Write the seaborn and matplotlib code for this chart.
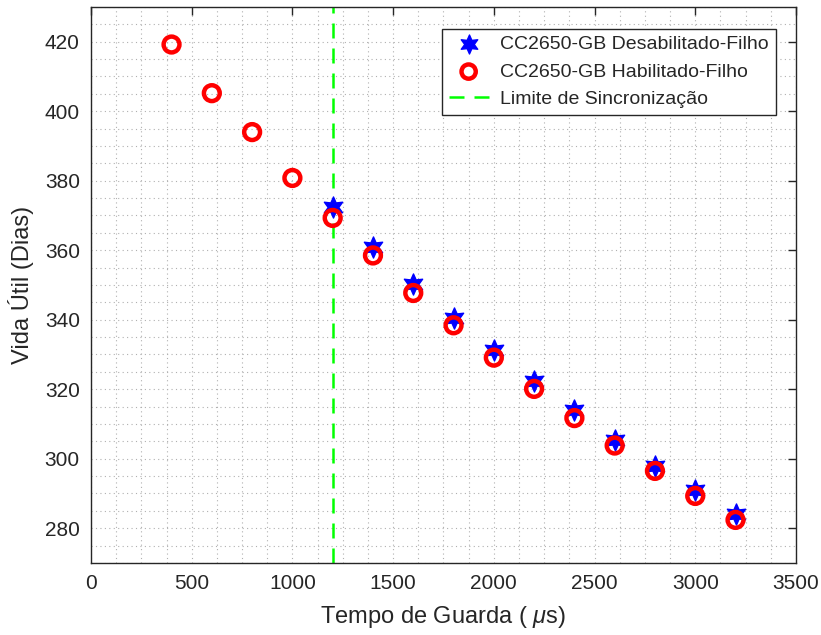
import matplotlib
matplotlib.use("Agg")
import matplotlib.pyplot as plt
import seaborn as sns
import numpy as np
import pandas as pd
from matplotlib.ticker import MultipleLocator

# Data
x_hab = [400, 600, 800, 1000, 1200, 1400, 1600, 1800, 2000, 2200, 2400, 2600, 2800, 3000, 3200]
y_hab = [419.2, 405.2, 394.0, 380.8, 369.3, 358.5, 347.7, 338.4, 329.1, 320.1, 311.7, 303.8, 296.5, 289.3, 282.4]
x_des = [1200, 1400, 1600, 1800, 2000, 2200, 2400, 2600, 2800, 3000, 3200]
y_des = [372.3, 361.0, 350.2, 340.6, 331.2, 322.3, 313.9, 305.5, 298.0, 291.0, 284.0]
sync_limit = 1200
label_des = "CC2650-GB Desabilitado-Filho"
label_hab = "CC2650-GB Habilitado-Filho"
label_sync = "Limite de Sincronização"
xlabel = "Tempo de Guarda ( $\\mu$s)"
ylabel = "Vida Útil (Dias)"

sns.set_style("white")
plt.rcParams['font.family'] = ['Liberation Sans', 'DejaVu Sans']
plt.rcParams['mathtext.fontset'] = 'custom'
plt.rcParams['mathtext.it'] = 'Liberation Sans:italic'

fig = plt.figure(figsize=(8.21, 6.35), dpi=100)
ax = fig.add_axes([0.1108, 0.1134, 0.8587, 0.8756])

df_des = pd.DataFrame({"x": x_des, "y": y_des})
df_hab = pd.DataFrame({"x": x_hab, "y": y_hab})

star6 = (6, 1, 0)
sns.scatterplot(data=df_des, x="x", y="y", ax=ax, marker=star6, s=230,
                color="#0000FF", edgecolor="#0000FF", linewidth=1, label=label_des, zorder=3)
sns.scatterplot(data=df_hab, x="x", y="y", ax=ax, marker="o", s=130,
                facecolor="none", edgecolor="#FF0000", linewidth=3.2, label=label_hab, zorder=4)
ax.axvline(sync_limit, color="#00FF00", linestyle=(0, (6, 4)), linewidth=1.8, label=label_sync, zorder=2)

ax.set_xlim(0, 3500)
ax.set_ylim(270, 430)
ax.xaxis.set_major_locator(MultipleLocator(500))
ax.set_yticks(np.arange(280, 421, 20))
ax.xaxis.set_minor_locator(MultipleLocator(125))
ax.yaxis.set_minor_locator(MultipleLocator(5))
ax.grid(True, which="both", color="#b0b0b0", linestyle=(0, (1, 3)), linewidth=0.8)
ax.set_axisbelow(True)
ax.tick_params(which="major", direction="in", length=6, width=1, top=True, right=True,
               labelsize=15, colors="#262626", labelcolor="#262626", pad=8)
ax.tick_params(which="minor", length=0)
for sp in ax.spines.values():
    sp.set_color("#262626")
    sp.set_linewidth(1)

ax.set_xlabel(xlabel, fontsize=17, color="#262626", labelpad=8)
ax.set_ylabel(ylabel, fontsize=17, color="#262626", labelpad=8)

leg = ax.legend(loc="upper right", bbox_to_anchor=(0.985, 0.978), fontsize=14, frameon=True,
                fancybox=False, edgecolor="#262626", framealpha=1, borderpad=0.35,
                labelspacing=0.5, handletextpad=0.6, handlelength=2.05, markerscale=0.9)
leg.get_frame().set_linewidth(1)

fig.savefig("out.png", dpi=100)
